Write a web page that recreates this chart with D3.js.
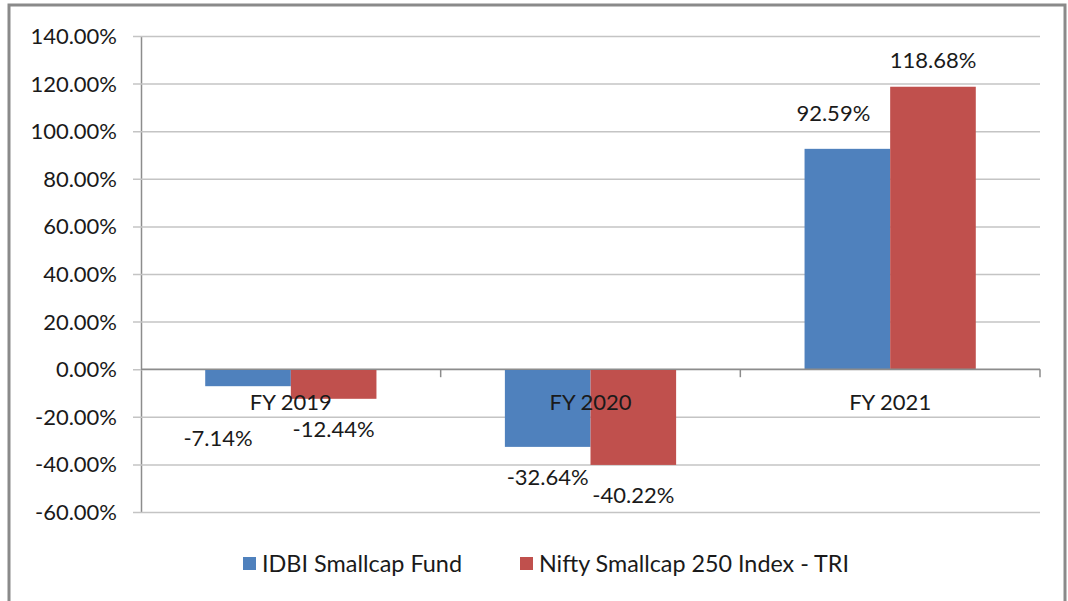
<!DOCTYPE html>
<html>
<head>
<meta charset="utf-8">
<script src="https://cdn.jsdelivr.net/npm/d3@7"></script>
<style>
  body { margin: 0; background: #fff; }
  text { font-family: Lato, "Open Sans", sans-serif; fill: #1a1a1a; }
</style>
</head>
<body>
<div id="chart"></div>
<script>
var categories = ["FY 2019", "FY 2020", "FY 2021"];
var seriesNames = ["IDBI Smallcap Fund", "Nifty Smallcap 250 Index - TRI"];
var fundValues = [-7.14, -32.64, 92.59];
var indexValues = [-12.44, -40.22, 118.68];
var yTicks = [-60, -40, -20, 0, 20, 40, 60, 80, 100, 120, 140];
var colors = ["#4f81bd", "#c0504d"];

var width = 1068,
    height = 601,
    plot = { left: 141, right: 1040, top: 36, bottom: 512 };

// plain hyphen for negatives, like the original
var pct = d3.formatLocale({ decimal: ".", thousands: ",", grouping: [3], currency: ["", ""], minus: "-" })
    .format(".2f");
function fmt(v) { return pct(v) + "%"; }

var svg = d3.select("#chart").append("svg")
    .attr("width", width)
    .attr("height", height);

// outer frame
svg.append("rect")
    .attr("x", 9).attr("y", 5)
    .attr("width", 1056).attr("height", 600)
    .attr("fill", "none")
    .attr("stroke", "#8a8a8a")
    .attr("stroke-width", 3);

var y = d3.scaleLinear()
    .domain([d3.min(yTicks), d3.max(yTicks)])
    .range([plot.bottom, plot.top]);

var x = d3.scaleBand()
    .domain(categories)
    .range([plot.left, plot.right]);

var xs = d3.scaleBand()
    .domain(d3.range(seriesNames.length))
    .range([0, x.bandwidth()])
    .paddingOuter(0.75);

// y axis with gridlines
var yAxis = svg.append("g")
    .attr("transform", "translate(" + plot.left + ",0)")
    .call(d3.axisLeft(y)
      .tickValues(yTicks)
      .tickSizeOuter(0)
      .tickSizeInner(0)
      .tickPadding(24)
      .tickFormat(fmt));

yAxis.select(".domain").attr("stroke", "#8c8c8c").attr("stroke-width", 1.5);
yAxis.selectAll(".tick line")
    .attr("x1", -8)
    .attr("x2", plot.right - plot.left)
    .attr("stroke", "#c4c4c4")
    .attr("stroke-width", 1.5);
yAxis.selectAll(".tick text")
    .style("font-size", "22px")
    .attr("dy", "0.34em");

var data = categories.map(function(c, i) {
  return { cat: c, values: [fundValues[i], indexValues[i]] };
});

// bars
var groups = svg.selectAll(".group")
    .data(data)
  .enter().append("g")
    .attr("class", "group")
    .attr("transform", function(d) { return "translate(" + x(d.cat) + ",0)"; });

groups.selectAll("rect")
    .data(function(d) { return d.values.map(function(v, s) { return { v: v, s: s, cat: d.cat }; }); })
  .enter().append("rect")
    .attr("x", function(d) { return xs(d.s); })
    .attr("width", xs.bandwidth())
    .attr("y", function(d) { return y(Math.max(0, d.v)); })
    .attr("height", function(d) { return Math.abs(y(d.v) - y(0)); })
    .attr("fill", function(d) { return colors[d.s]; });

// category axis at zero
svg.append("line")
    .attr("x1", plot.left).attr("x2", plot.right)
    .attr("y1", y(0)).attr("y2", y(0))
    .attr("stroke", "#8c8c8c").attr("stroke-width", 1.5);

var bounds = categories.map(function(c) { return x(c) + x.bandwidth(); });
svg.selectAll(".xtick")
    .data(bounds)
  .enter().append("line")
    .attr("x1", function(d) { return d; }).attr("x2", function(d) { return d; })
    .attr("y1", y(0)).attr("y2", y(0) + 8)
    .attr("stroke", "#8c8c8c").attr("stroke-width", 1.5);

// data labels (a couple were dragged by hand in the original)
var labelShift = { "0-0": [-30, 22], "2-0": [-14, -10] };

groups.selectAll(".lbl")
    .data(function(d, i) { return d.values.map(function(v, s) { return { v: v, s: s, i: i }; }); })
  .enter().append("text")
    .attr("class", "lbl")
    .attr("text-anchor", "middle")
    .attr("dy", "0.35em")
    .style("font-size", "22px")
    .attr("x", function(d) {
      var sh = labelShift[d.i + "-" + d.s] || [0, 0];
      return xs(d.s) + xs.bandwidth() / 2 + sh[0];
    })
    .attr("y", function(d) {
      var sh = labelShift[d.i + "-" + d.s] || [0, 0];
      return y(d.v) + (d.v < 0 ? 30 : -26) + sh[1];
    })
    .text(function(d) { return fmt(d.v); });

// category labels, drawn over the bars
svg.selectAll(".cat")
    .data(categories)
  .enter().append("text")
    .attr("class", "cat")
    .attr("text-anchor", "middle")
    .style("font-size", "22px")
    .attr("x", function(d) { return x(d) + x.bandwidth() / 2; })
    .attr("y", y(0) + 41)
    .text(function(d) { return d; });

// legend
var legendX = [243, 520],
    legendW = [200, 310];
var legend = svg.selectAll(".legend")
    .data(seriesNames)
  .enter().append("g")
    .attr("class", "legend")
    .attr("transform", function(d, i) { return "translate(" + legendX[i] + ",557)"; });

legend.append("rect")
    .attr("width", 13).attr("height", 13)
    .attr("fill", function(d, i) { return colors[i]; });

legend.append("text")
    .attr("x", 19)
    .attr("y", 15)
    .style("font-size", "23px")
    .attr("textLength", function(d, i) { return legendW[i]; })
    .attr("lengthAdjust", "spacingAndGlyphs")
    .text(function(d) { return d; });
</script>
</body>
</html>
